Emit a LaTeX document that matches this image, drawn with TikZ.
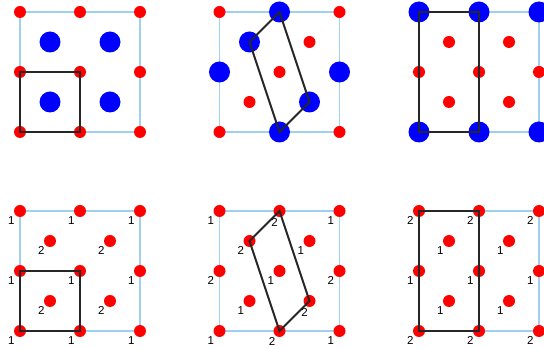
\documentclass[tikz,border=0pt]{standalone}
\usepackage{fontspec}
\setmainfont{Liberation Sans}
\usetikzlibrary{backgrounds}
\definecolor{gridblue}{RGB}{160,208,238}

\begin{document}
\begin{tikzpicture}[
    x=1pt,y=1pt,
    lattice/.style={x=30pt,y=30pt},
    reddot/.style={circle,fill=red,inner sep=0pt,minimum size=12pt},
    bluedot/.style={circle,fill=blue,inner sep=0pt,minimum size=21pt},
    gridline/.style={draw=gridblue,line width=1.9pt},
    cellline/.style={draw=black!85,line width=2pt},
    num/.style={font=\fontsize{11.5}{13}\selectfont,inner sep=1pt}
  ]
  \useasboundingbox (0,0) rectangle (544,348);

  % top row: two kinds of atoms
  \begin{scope}[lattice,xshift=20pt,yshift=216pt]
    \foreach \i in {0,2,4}
      \foreach \j in {0,2,4}
        \node[reddot] (a\i\j) at (\i,\j) {};
    \foreach \i in {1,3}
      \foreach \j in {1,3}
        \node[bluedot] (a\i\j) at (\i,\j) {};
    \begin{scope}[on background layer]
      \draw[gridline] (a00.center) -- (a40.center) -- (a44.center) -- (a04.center) -- cycle;
    \end{scope}
    \draw[cellline] (a00.center) -- (a20.center) -- (a22.center) -- (a02.center) -- cycle;
  \end{scope}

  \begin{scope}[lattice,xshift=219.5pt,yshift=216pt]
    \foreach \i/\j in {0/0,4/0,0/4,4/4,3/3,2/2,1/1}
      \node[reddot] (b\i\j) at (\i,\j) {};
    \foreach \i/\j in {2/4,2/0,0/2,4/2,1/3,3/1}
      \node[bluedot] (b\i\j) at (\i,\j) {};
    \begin{scope}[on background layer]
      \draw[gridline] (b00.center) -- (b40.center) -- (b44.center) -- (b04.center) -- cycle;
    \end{scope}
    \draw[cellline] (b24.center) -- (b13.center) -- (b20.center) -- (b31.center) -- cycle;
  \end{scope}

  \begin{scope}[lattice,xshift=419pt,yshift=216pt]
    \foreach \i/\j in {0/2,2/2,4/2,1/1,3/1,1/3,3/3}
      \node[reddot] (c\i\j) at (\i,\j) {};
    \foreach \i/\j in {0/0,2/0,4/0,0/4,2/4,4/4}
      \node[bluedot] (c\i\j) at (\i,\j) {};
    \begin{scope}[on background layer]
      \draw[gridline] (c00.center) -- (c40.center) -- (c44.center) -- (c04.center) -- cycle;
    \end{scope}
    \draw[cellline] (c00.center) -- (c20.center) -- (c24.center) -- (c04.center) -- cycle;
  \end{scope}

  % bottom row: numbered sites
  \begin{scope}[lattice,xshift=20pt,yshift=17pt]
    \foreach \i/\j/\n in {0/0/1,2/0/1,4/0/1,0/2/1,2/2/1,4/2/1,0/4/1,2/4/1,4/4/1,
                          1/1/2,3/1/2,1/3/2,3/3/2}
      \node[reddot,label={[num]225:\n}] (d\i\j) at (\i,\j) {};
    \begin{scope}[on background layer]
      \draw[gridline] (d00.center) -- (d40.center) -- (d44.center) -- (d04.center) -- cycle;
    \end{scope}
    \draw[cellline] (d00.center) -- (d20.center) -- (d22.center) -- (d02.center) -- cycle;
  \end{scope}

  \begin{scope}[lattice,xshift=219.5pt,yshift=17pt]
    \foreach \i/\j/\n/\a in {0/4/1/225,2/4/2/265,4/4/1/225,1/3/2/225,3/3/1/225,
                             0/2/2/225,2/2/1/225,4/2/2/225,1/1/1/225,3/1/2/265,
                             0/0/1/225,2/0/2/240,4/0/1/225}
      \node[reddot,label={[num]\a:\n}] (e\i\j) at (\i,\j) {};
    \begin{scope}[on background layer]
      \draw[gridline] (e00.center) -- (e40.center) -- (e44.center) -- (e04.center) -- cycle;
    \end{scope}
    \draw[cellline] (e24.center) -- (e13.center) -- (e20.center) -- (e31.center) -- cycle;
  \end{scope}

  \begin{scope}[lattice,xshift=419pt,yshift=17pt]
    \foreach \i/\j/\n in {0/4/2,2/4/2,4/4/2,1/3/1,3/3/1,0/2/1,2/2/1,4/2/1,
                          1/1/1,3/1/1,0/0/2,2/0/2,4/0/2}
      \node[reddot,label={[num]225:\n}] (f\i\j) at (\i,\j) {};
    \begin{scope}[on background layer]
      \draw[gridline] (f00.center) -- (f40.center) -- (f44.center) -- (f04.center) -- cycle;
    \end{scope}
    \draw[cellline] (f00.center) -- (f20.center) -- (f24.center) -- (f04.center) -- cycle;
  \end{scope}
\end{tikzpicture}
\end{document}
